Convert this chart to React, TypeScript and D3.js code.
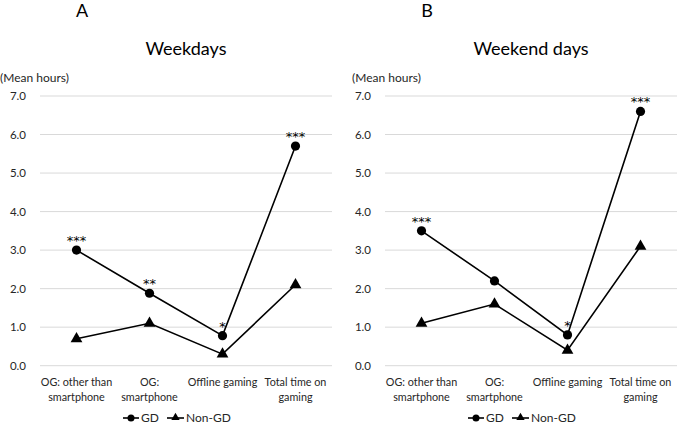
import * as d3 from "d3";

const categories = ["OG: other than\nsmartphone", "OG:\nsmartphone", "Offline gaming", "Total time on\ngaming"];
const yTicks = [0, 1, 2, 3, 4, 5, 6, 7];

const weekdayGD = [3.0, 1.88, 0.78, 5.7];
const weekdayNonGD = [0.7, 1.1, 0.3, 2.1];
const weekdaySig = ["***", "**", "*", "***"];

const weekendGD = [3.5, 2.2, 0.8, 6.6];
const weekendNonGD = [1.1, 1.6, 0.4, 3.1];
const weekendSig = ["***", "", "*", "***"];

const FONT = "Lato, sans-serif";
const TEXT = "#262626";

type PanelProps = {
  left: number;
  letter: string;
  title: string;
  gd: number[];
  nonGd: number[];
  sig: string[];
};

const Panel = ({ left, letter, title, gd, nonGd, sig }: PanelProps) => {
  const plotLeft = left + 40;
  const plotRight = left + 332;
  const x = d3.scaleBand<string>().domain(categories).range([plotLeft, plotRight]);
  const y = d3.scaleLinear().domain([0, 7]).range([365.7, 96]);
  const cx = (c: string) => (x(c) || 0) + x.bandwidth() / 2;

  const line = d3
    .line<number>()
    .x((_, i) => cx(categories[i]))
    .y((d) => y(d));

  const tri = d3.symbol(d3.symbolTriangle, 60)() || "";

  const mid = (plotLeft + plotRight) / 2;

  return (
    <g fontFamily={FONT}>
      <text x={left + 82} y={17} fontSize={18} textAnchor="middle" fill="#000">
        {letter}
      </text>
      <text x={mid} y={55} fontSize={18} textAnchor="middle" fill="#000">
        {title}
      </text>
      <text x={left + (left === 0 ? 0 : 7)} y={82} fontSize={12} fill={TEXT}>
        (Mean hours)
      </text>

      {yTicks.map((t) => (
        <g key={t}>
          <line x1={plotLeft} x2={plotRight} y1={y(t)} y2={y(t)} stroke="#d9d9d9" strokeWidth={1} />
          <text x={plotLeft - 14} y={y(t)} dy="0.35em" fontSize={11.5} textAnchor="end" fill={TEXT}>
            {t.toFixed(1)}
          </text>
        </g>
      ))}

      {categories.map((c) => (
        <text key={c} x={cx(c)} y={386} fontSize={10.8} textAnchor="middle" fill={TEXT}>
          {c.split("\n").map((s, i) => (
            <tspan key={i} x={cx(c)} dy={i === 0 ? 0 : 15}>
              {s}
            </tspan>
          ))}
        </text>
      ))}

      <path d={line(nonGd) || ""} fill="none" stroke="#000" strokeWidth={1.6} />
      <path d={line(gd) || ""} fill="none" stroke="#000" strokeWidth={1.6} />

      {nonGd.map((v, i) => (
        <path key={"t" + i} d={tri} transform={`translate(${cx(categories[i])},${y(v)})`} fill="#000" />
      ))}
      {gd.map((v, i) => (
        <circle key={"c" + i} cx={cx(categories[i])} cy={y(v)} r={4.6} fill="#000" />
      ))}
      {gd.map((v, i) => (
        <text
          key={"s" + i}
          x={cx(categories[i])}
          y={y(v) - 5}
          fontSize={13}
          fontFamily="'DejaVu Sans', sans-serif"
          textAnchor="middle"
          fill="#000"
        >
          {sig[i]}
        </text>
      ))}

      <g transform={`translate(${left + 123},418)`}>
        <line x1={0} x2={16} y1={0} y2={0} stroke="#000" strokeWidth={1.6} />
        <circle cx={8} cy={0} r={3.5} fill="#000" />
        <text x={18} y={0} dy="0.35em" fontSize={12} fill={TEXT}>
          GD
        </text>
        <line x1={44} x2={61} y1={0} y2={0} stroke="#000" strokeWidth={1.6} />
        <path d={d3.symbol(d3.symbolTriangle, 30)() || ""} transform="translate(52.5,-0.5)" fill="#000" />
        <text x={63} y={0} dy="0.35em" fontSize={12} fill={TEXT}>
          Non-GD
        </text>
      </g>
    </g>
  );
};

export default function App() {
  return (
    <svg width={687} height={424} style={{ position: "absolute", left: 0, top: 0, background: "#fff" }}>
      <rect width={687} height={424} fill="#fff" />
      <Panel left={0} letter="A" title="Weekdays" gd={weekdayGD} nonGd={weekdayNonGD} sig={weekdaySig} />
      <Panel left={345} letter="B" title="Weekend days" gd={weekendGD} nonGd={weekendNonGD} sig={weekendSig} />
    </svg>
  );
}
